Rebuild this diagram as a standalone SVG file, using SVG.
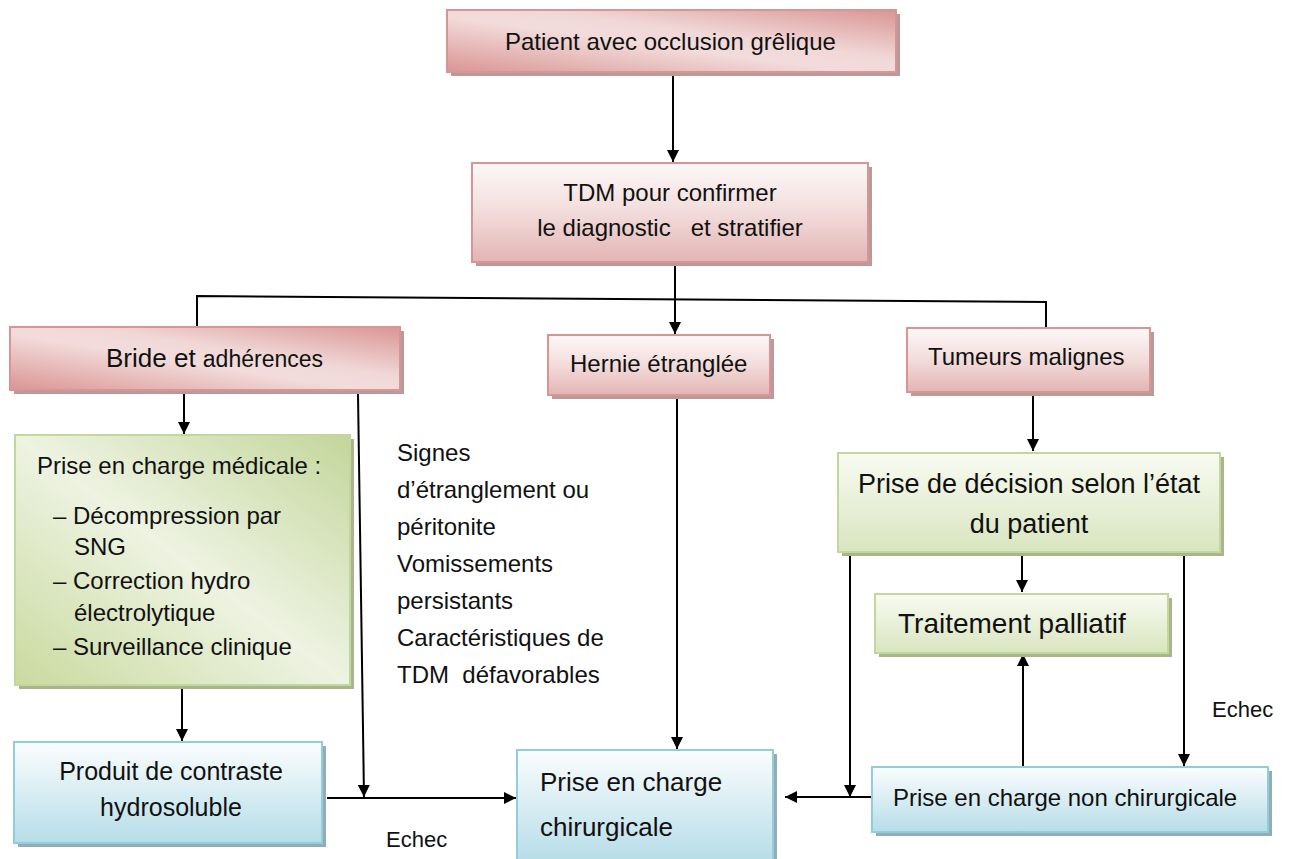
<svg xmlns="http://www.w3.org/2000/svg" width="1292" height="859" viewBox="0 0 1292 859">
  <defs>
    <!-- pink fills -->
    <linearGradient id="redDiag" x1="0" y1="1" x2="1" y2="0">
      <stop offset="0" stop-color="#d99594"/>
      <stop offset="0.45" stop-color="#f2dcdb"/>
      <stop offset="0.6" stop-color="#f0d8d7"/>
      <stop offset="1" stop-color="#d99594"/>
    </linearGradient>
    <linearGradient id="redVert" x1="0" y1="0" x2="0" y2="1">
      <stop offset="0" stop-color="#fdf8f8"/>
      <stop offset="0.5" stop-color="#f2dcdb"/>
      <stop offset="1" stop-color="#e3b4b3"/>
    </linearGradient>
    <!-- green fills -->
    <linearGradient id="greenDiag" x1="0" y1="1" x2="1" y2="0">
      <stop offset="0" stop-color="#c9da9f"/>
      <stop offset="0.5" stop-color="#eef3e2"/>
      <stop offset="1" stop-color="#c3d69b"/>
    </linearGradient>
    <linearGradient id="greenVert" x1="0" y1="0" x2="0" y2="1">
      <stop offset="0" stop-color="#f8fbf2"/>
      <stop offset="1" stop-color="#d9e5bf"/>
    </linearGradient>
    <!-- blue fill -->
    <linearGradient id="blueVert" x1="0" y1="0" x2="0" y2="1">
      <stop offset="0" stop-color="#fbfdfe"/>
      <stop offset="1" stop-color="#b6dde8"/>
    </linearGradient>
    <marker id="arrow" viewBox="0 0 10 10" refX="10" refY="5" markerWidth="12" markerHeight="12" markerUnits="userSpaceOnUse" orient="auto">
      <path d="M0,0 L10,5 L0,10 Z" fill="#000"/>
    </marker>
  </defs>
  <style>
    .txt { font-family: "Liberation Sans", Arial, sans-serif; fill: #111; white-space: pre; }
    .red { stroke: #d99594; stroke-width: 2; }
    .green { stroke: #c3d69b; stroke-width: 2; }
    .blue { stroke: #92cddc; stroke-width: 2; }
    .sh-red { fill: #b99a9a; }
    .sh-green { fill: #a9b58f; }
    .sh-blue { fill: #94acb4; }
    .wire { fill: none; stroke: #000; stroke-width: 2; }
  </style>

  <rect width="1292" height="859" fill="#fff"/>

  <!-- connectors -->
  <g id="connectors">
    <line class="wire" x1="673" y1="76" x2="673" y2="162" marker-end="url(#arrow)"/>
    <line class="wire" x1="675" y1="266" x2="675" y2="334" marker-end="url(#arrow)"/>
    <polyline class="wire" points="197,327 197,296 1046,302 1046,328"/>
    <line class="wire" x1="184" y1="394" x2="184" y2="434" marker-end="url(#arrow)"/>
    <line class="wire" x1="358" y1="394" x2="364" y2="797" marker-end="url(#arrow)"/>
    <line class="wire" x1="182" y1="689" x2="182" y2="741" marker-end="url(#arrow)"/>
    <line class="wire" x1="327" y1="798" x2="516" y2="798" marker-end="url(#arrow)"/>
    <line class="wire" x1="677" y1="399" x2="677" y2="749" marker-end="url(#arrow)"/>
    <line class="wire" x1="1033" y1="396" x2="1033" y2="451" marker-end="url(#arrow)"/>
    <line class="wire" x1="1022" y1="556" x2="1022" y2="592" marker-end="url(#arrow)"/>
    <line class="wire" x1="1023" y1="766" x2="1023" y2="654" marker-end="url(#arrow)"/>
    <line class="wire" x1="850" y1="556" x2="850" y2="797" marker-end="url(#arrow)"/>
    <line class="wire" x1="871" y1="797" x2="785" y2="797" marker-end="url(#arrow)"/>
    <line class="wire" x1="1184" y1="556" x2="1184" y2="766" marker-end="url(#arrow)"/>
  </g>

  <!-- nodes -->
  <g id="patient">
    <rect class="sh-red" x="451" y="14" width="449" height="62"/>
    <rect class="red" x="447" y="10" width="449" height="62" fill="url(#redDiag)"/>
    <text class="txt" x="505" y="50" font-size="24">Patient avec occlusion grêlique</text>
  </g>

  <g id="tdm">
    <rect class="sh-red" x="476" y="167" width="396" height="99"/>
    <rect class="red" x="472" y="163" width="396" height="99" fill="url(#redVert)"/>
    <text class="txt" x="670" y="201" font-size="24" text-anchor="middle">TDM pour confirmer</text>
    <text class="txt" x="670" y="236" font-size="24" text-anchor="middle">le diagnostic   et stratifier</text>
  </g>

  <g id="bride">
    <rect class="sh-red" x="14" y="331" width="390" height="63"/>
    <rect class="red" x="10" y="327" width="390" height="63" fill="url(#redDiag)"/>
    <text class="txt" x="106" y="367"><tspan font-size="26">Bride et </tspan><tspan font-size="23">adhérences</tspan></text>
  </g>

  <g id="hernie">
    <rect class="sh-red" x="552" y="339" width="222" height="60"/>
    <rect class="red" x="548" y="335" width="222" height="60" fill="url(#redVert)"/>
    <text class="txt" x="570" y="372" font-size="24">Hernie étranglée</text>
  </g>

  <g id="tumeurs">
    <rect class="sh-red" x="911" y="332" width="243" height="64"/>
    <rect class="red" x="907" y="328" width="243" height="64" fill="url(#redVert)"/>
    <text class="txt" x="928" y="365" font-size="24">Tumeurs malignes</text>
  </g>

  <g id="medical">
    <rect class="sh-green" x="19" y="439" width="335" height="250"/>
    <rect class="green" x="15" y="435" width="335" height="250" fill="url(#greenDiag)"/>
    <text class="txt" x="37" y="474" font-size="24">Prise en charge médicale :</text>
    <text class="txt" x="53" y="524" font-size="24">– Décompression par</text>
    <text class="txt" x="74" y="555" font-size="24">SNG</text>
    <text class="txt" x="53" y="589" font-size="24">– Correction hydro</text>
    <text class="txt" x="74" y="621" font-size="24">électrolytique</text>
    <text class="txt" x="53" y="655" font-size="24">– Surveillance clinique</text>
  </g>

  <g id="signes">
    <text class="txt" x="397" y="461" font-size="24">Signes</text>
    <text class="txt" x="397" y="498" font-size="24">d’étranglement ou</text>
    <text class="txt" x="397" y="535" font-size="24">péritonite</text>
    <text class="txt" x="397" y="572" font-size="24">Vomissements</text>
    <text class="txt" x="397" y="609" font-size="24">persistants</text>
    <text class="txt" x="397" y="646" font-size="24">Caractéristiques de</text>
    <text class="txt" x="397" y="683" font-size="24">TDM  défavorables</text>
  </g>

  <g id="decision">
    <rect class="sh-green" x="842" y="457" width="382" height="99"/>
    <rect class="green" x="838" y="453" width="382" height="99" fill="url(#greenVert)"/>
    <text class="txt" x="1029" y="493" font-size="27" text-anchor="middle">Prise de décision selon l’état</text>
    <text class="txt" x="1029" y="533" font-size="27" text-anchor="middle">du patient</text>
  </g>

  <g id="palliatif">
    <rect class="sh-green" x="879" y="598" width="293" height="59"/>
    <rect class="green" x="875" y="594" width="293" height="59" fill="url(#greenVert)"/>
    <text class="txt" x="898" y="633" font-size="28">Traitement palliatif</text>
  </g>

  <g id="contraste">
    <rect class="sh-blue" x="18" y="746" width="308" height="101"/>
    <rect class="blue" x="14" y="742" width="308" height="101" fill="url(#blueVert)"/>
    <text class="txt" x="171" y="780" font-size="25" text-anchor="middle">Produit de contraste</text>
    <text class="txt" x="171" y="816" font-size="25" text-anchor="middle">hydrosoluble</text>
  </g>

  <g id="chirurgicale">
    <rect class="sh-blue" x="521" y="754" width="256" height="110"/>
    <rect class="blue" x="517" y="750" width="256" height="112" fill="url(#blueVert)"/>
    <text class="txt" x="540" y="791" font-size="26">Prise en charge</text>
    <text class="txt" x="540" y="836" font-size="26">chirurgicale</text>
  </g>

  <g id="non-chirurgicale">
    <rect class="sh-blue" x="876" y="771" width="396" height="65"/>
    <rect class="blue" x="872" y="767" width="396" height="65" fill="url(#blueVert)"/>
    <text class="txt" x="893" y="806" font-size="24">Prise en charge non chirurgicale</text>
  </g>

  <g id="echec-labels">
    <text class="txt" x="386" y="847" font-size="22">Echec</text>
    <text class="txt" x="1212" y="717" font-size="22">Echec</text>
  </g>
</svg>
